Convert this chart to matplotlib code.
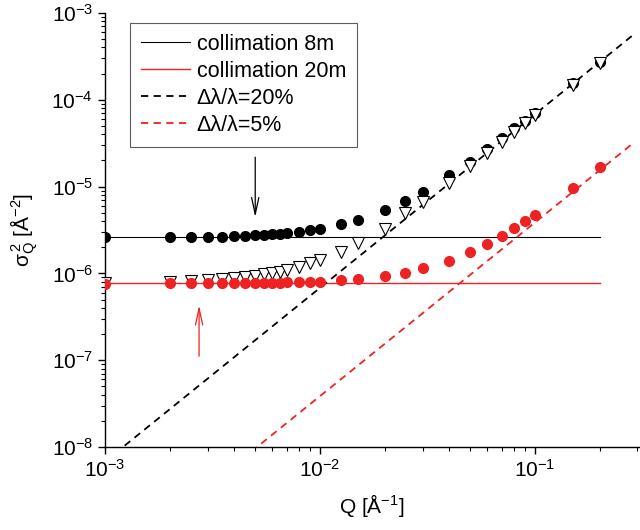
import numpy as np
import matplotlib
matplotlib.use("Agg")
import matplotlib.pyplot as plt

plt.rcParams['font.family'] = ['Liberation Sans', 'DejaVu Sans']
plt.rcParams['mathtext.fontset'] = 'custom'
plt.rcParams['mathtext.rm'] = 'Liberation Sans'
plt.rcParams['mathtext.it'] = 'Liberation Sans:italic'
plt.rcParams['mathtext.default'] = 'regular'

""" DATA """

# Q values of the measured points [1/A]
q = [0.001, 0.002, 0.0025, 0.003, 0.0035, 0.004, 0.0045, 0.005, 0.0055, 0.006,
     0.0065, 0.007, 0.008, 0.009, 0.01, 0.0125, 0.015, 0.02, 0.025, 0.03,
     0.04, 0.05, 0.06, 0.07, 0.08, 0.09, 0.1, 0.15, 0.2]

# sigma_Q^2, filled black circles (8m, 20%)
s_black = [2.59e-6, 2.62e-6, 2.63e-6, 2.63e-6, 2.64e-6, 2.68e-6, 2.70e-6, 2.75e-6, 2.78e-6, 2.82e-6,
           2.87e-6, 2.92e-6, 3.03e-6, 3.14e-6, 3.25e-6, 3.68e-6, 4.1e-6, 5.3e-6, 6.73e-6, 8.55e-6,
           1.35e-5, 1.90e-5, 2.70e-5, 3.59e-5, 4.68e-5, 5.73e-5, 7.08e-5, 1.55e-4, 2.75e-4]

# open triangles (20m, 20%)
s_tri = [7.74e-7, 7.89e-7, 8.1e-7, 8.32e-7, 8.62e-7, 8.94e-7, 9.18e-7, 9.42e-7, 9.77e-7, 1.01e-6,
         1.05e-6, 1.08e-6, 1.19e-6, 1.30e-6, 1.42e-6, 1.77e-6, 2.21e-6, 3.27e-6, 4.9e-6, 6.67e-6,
         1.10e-5, 1.73e-5, 2.41e-5, 3.28e-5, 4.28e-5, 5.43e-5, 6.67e-5, 1.48e-4, 2.63e-4]

# filled red circles (20m, 5%)
s_red = [7.62e-7, 7.7e-7, 7.7e-7, 7.75e-7, 7.75e-7, 7.75e-7, 7.8e-7, 7.8e-7, 7.85e-7, 7.85e-7,
         7.85e-7, 7.9e-7, 7.9e-7, 7.95e-7, 8.0e-7, 8.4e-7, 8.63e-7, 9.25e-7, 1.02e-6, 1.14e-6,
         1.39e-6, 1.74e-6, 2.17e-6, 2.68e-6, 3.29e-6, 3.99e-6, 4.68e-6, 9.66e-6, 1.66e-5]

# collimation limits (horizontal lines)
q_coll = [0.001, 0.2]
s_coll8 = [2.6e-6, 2.6e-6]
s_coll20 = [7.75e-7, 7.75e-7]

# wavelength spread lines (sigma^2 ~ Q^2), end points
q_wl = [0.001, 0.29]
s_wl20 = [6.8e-9, 5.72e-4]
s_wl5 = [3.85e-10, 3.24e-5]

# arrows: (Q, from, to)
arrow_black = (0.005, 2.18e-5, 4.44e-6)
arrow_red = (0.00274, 1.11e-7, 4.29e-7)

RED = '#ee2222'

""" PLOT """

fig = plt.figure(figsize=(6.4, 5.3), dpi=100)
ax = fig.add_axes([0.164, 0.1566, 0.834, 0.819])

ax.plot(q_coll, s_coll8, color='black', lw=0.8, label='collimation 8m')
ax.plot(q_coll, s_coll20, color=RED, lw=1.0, label='collimation 20m')
ax.plot(q_wl, s_wl20, color='black', lw=1.3, ls=(0, (4, 3)), label='Δλ/λ=20%')
ax.plot(q_wl, s_wl5, color=RED, lw=1.3, ls=(0, (4, 3)), label='Δλ/λ=5%')

ax.plot(q, s_black, 'o', color='black', ms=7, zorder=3)
ax.plot(q, s_tri, 'v', mfc='white', mec='black', mew=0.8, ms=8, zorder=4)
ax.plot(q, s_red, 'o', color=RED, ms=7, zorder=5)

ax.annotate('', xy=(arrow_black[0], arrow_black[2]), xytext=(arrow_black[0], arrow_black[1]),
            arrowprops=dict(arrowstyle='->,head_length=0.6,head_width=0.13',
                            color='black', lw=0.9, mutation_scale=20, shrinkA=0, shrinkB=0))
ax.annotate('', xy=(arrow_red[0], arrow_red[2]), xytext=(arrow_red[0], arrow_red[1]),
            arrowprops=dict(arrowstyle='->,head_length=0.6,head_width=0.13',
                            color=RED, lw=0.9, mutation_scale=20, shrinkA=0, shrinkB=0))

ax.set_xscale('log')
ax.set_yscale('log')
ax.set_xlim(1e-3, 0.304)
ax.set_ylim(1e-8, 1e-3)

for side in ['top', 'right']:
    ax.spines[side].set_visible(False)
for side in ['left', 'bottom']:
    ax.spines[side].set_linewidth(1.0)

ax.tick_params(which='major', direction='out', length=5, width=1.0, labelsize=15)
ax.tick_params(which='minor', direction='out', length=3, width=0.8)
ax.yaxis.set_minor_locator(matplotlib.ticker.LogLocator(base=10, subs=np.arange(2, 10), numticks=20))
ax.xaxis.set_minor_locator(matplotlib.ticker.LogLocator(base=10, subs=np.arange(2, 10), numticks=20))
ax.yaxis.set_minor_formatter(matplotlib.ticker.NullFormatter())
ax.xaxis.set_minor_formatter(matplotlib.ticker.NullFormatter())

ax.set_xlabel('Q [Å$^{-1}$]', fontsize=15, labelpad=8)
ax.set_ylabel('σ$_Q^{\\,2}$ [Å$^{-2}$]', fontsize=15, labelpad=8)

leg = ax.legend(loc='upper left', bbox_to_anchor=(0.047, 0.977), borderaxespad=0,
                fontsize=15.5, frameon=True, fancybox=False, edgecolor='#333333',
                handlelength=2.3, handletextpad=0.3, labelspacing=0.28, borderpad=0.5)
leg.get_frame().set_linewidth(0.8)

fig.savefig('out.png', dpi=100)
